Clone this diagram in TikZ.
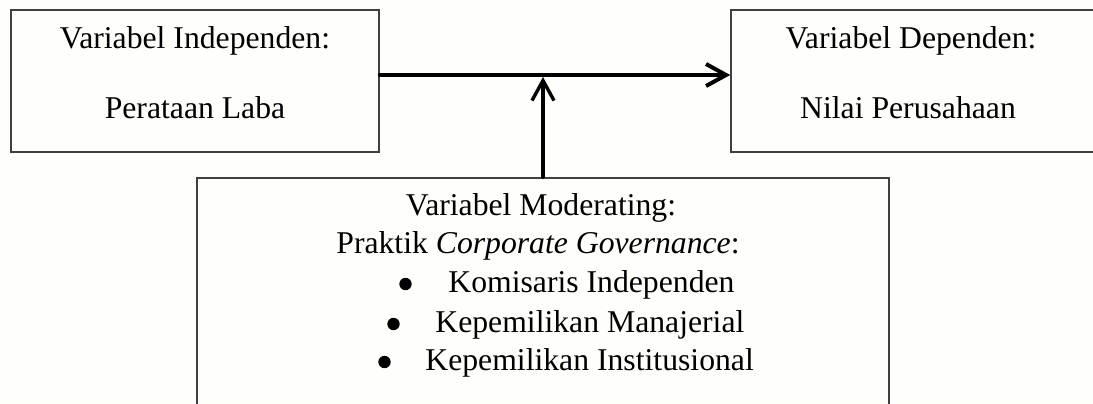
\documentclass[tikz,border=0pt]{standalone}
\usepackage{fontspec}
\setmainfont{Liberation Serif}
\usetikzlibrary{arrows.meta}
\definecolor{bg}{HTML}{FEFEFA}
\begin{document}
\begin{tikzpicture}[x=0.5pt,y=-0.5pt,
  box/.style={draw=black!75,line width=0.8pt,inner sep=0pt},
  txt/.style={inner sep=0pt,anchor=base,font=\fontsize{15.85}{19}\selectfont},
  txtw/.style={txt,anchor=base west},
  bul/.style={circle,fill=black,inner sep=0pt,minimum size=6.2pt},
  arr/.style={-{Straight Barb[length=10pt,width=11pt]},line cap=round}]
\useasboundingbox (0,0) rectangle (1093,403);
\fill[bg] (0,0) rectangle (1093,403);
\clip (0,0) rectangle (1093,403);
% boxes
\node[box,minimum width=184pt,minimum height=71.25pt] (L) at (195,81) {};
\node[box,minimum width=184pt,minimum height=71.25pt] (R) at (915,81) {};
\node[box,minimum width=346pt,minimum height=140pt] (B) at (543,318) {};
% texts
\node[txt] (l1) at (195,48) {Variabel Independen:};
\node[txt] (l2) at (195,118) {Perataan Laba};
\node[txt] (r1) at (911,48) {Variabel Dependen:};
\node[txt] (r2) at (908,118) {Nilai Perusahaan};
\node[txt] (b1) at (541,215) {Variabel Moderating:};
\node[txt] (b2) at (538,253) {Praktik \textit{Corporate Governance}:};
\node[bul] (k1) at (405.5,284) {};
\node[txtw] (t1) at (448,292) {Komisaris Independen};
\node[bul] (k2) at (393.5,324) {};
\node[txtw] (t2) at (435,332) {Kepemilikan Manajerial};
\node[bul] (k3) at (384.5,362) {};
\node[txtw] (t3) at (425,370) {Kepemilikan Institusional};
% connectors
\coordinate (j) at (543,75);
\draw[arr,line width=2pt] (L.east |- j) -- (R.west |- j);
\draw[arr,line width=1.7pt,shorten >=1pt] (B.north -| j) -- (j);
\end{tikzpicture}
\end{document}
